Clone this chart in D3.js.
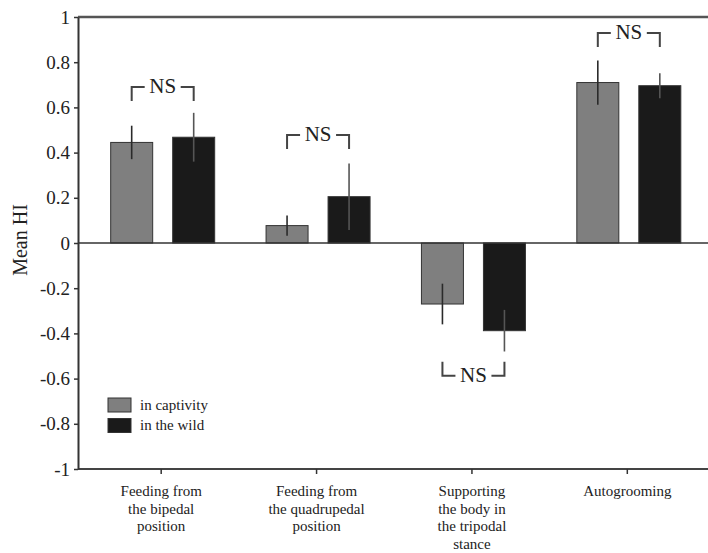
<!DOCTYPE html>
<html>
<head>
<meta charset="utf-8">
<script src="https://cdn.jsdelivr.net/npm/d3@7"></script>
<style>
    body { margin: 0; background: #fff; }
    svg { display: block; }
    text { font-family: "Liberation Serif", "Times New Roman", serif; fill: #222; }
</style>
</head>
<body>
<svg id="chart" width="708" height="553"></svg>
<script>
// DATA
var categories = ["bipedal", "quadrupedal", "tripodal", "autogrooming"];
var categoryLines = [
    ["Feeding from", "the bipedal", "position"],
    ["Feeding from", "the quadrupedal", "position"],
    ["Supporting", "the body in", "the tripodal", "stance"],
    ["Autogrooming"]
];
var seriesNames = ["in captivity", "in the wild"];
var captivityMeans = [0.445, 0.077, -0.27, 0.71];
var captivityErrors = [0.074, 0.045, 0.09, 0.098];
var wildMeans = [0.468, 0.205, -0.388, 0.696];
var wildErrors = [0.108, 0.147, 0.092, 0.055];
var nsLevels = [0.69, 0.478, -0.587, 0.929];
var yTickValues = [-1, -0.8, -0.6, -0.4, -0.2, 0, 0.2, 0.4, 0.6, 0.8, 1];

// UI dimensions
var _width = 708;
var _axisX = 78;
var _topY = 17;
var _bottomY = 469;
var _colors = ["#7f7f7f", "#1a1a1a"];

var svg = d3.select("#chart");

var x = d3.scaleBand()
    .domain(categories)
    .range([83.5, 705]);

var xSub = d3.scaleBand()
    .domain(seriesNames)
    .range([-52, 52])
    .paddingInner(0.3226);

var y = d3.scaleLinear()
    .domain([-1, 1])
    .range([_bottomY, _topY]);

var rows = [];
categories.forEach(function(c, i) {
    rows.push({cat: c, series: seriesNames[0], mean: captivityMeans[i], err: captivityErrors[i], k: 0});
    rows.push({cat: c, series: seriesNames[1], mean: wildMeans[i], err: wildErrors[i], k: 1});
});

var barCenter = function(d) {
    return x(d.cat) + x.bandwidth() / 2 + 1.5 + xSub(d.series) + xSub.bandwidth() / 2;
};

// bars
svg.append("g").selectAll("rect")
    .data(rows)
    .enter()
    .append("rect")
        .attr("x", function(d) { return barCenter(d) - xSub.bandwidth() / 2; })
        .attr("y", function(d) { return y(Math.max(0, d.mean)); })
        .attr("width", xSub.bandwidth())
        .attr("height", function(d) { return Math.abs(y(d.mean) - y(0)); })
        .attr("fill", function(d) { return _colors[d.k]; })
        .attr("stroke", "#333")
        .attr("stroke-width", 1);

// error bars
svg.append("g").selectAll("line")
    .data(rows)
    .enter()
    .append("line")
        .attr("x1", barCenter)
        .attr("x2", barCenter)
        .attr("y1", function(d) { return y(d.mean + d.err); })
        .attr("y2", function(d) { return y(d.mean - d.err); })
        .attr("stroke", function(d) { return d.k === 0 ? "#2a2a2a" : "#555"; })
        .attr("stroke-width", 1.6);

// zero line
svg.append("line")
    .attr("x1", _axisX).attr("x2", _width)
    .attr("y1", y(0)).attr("y2", y(0))
    .attr("stroke", "#333").attr("stroke-width", 1.5);

// frame lines
svg.append("line")
    .attr("x1", _axisX).attr("x2", _width)
    .attr("y1", y(1)).attr("y2", y(1))
    .attr("stroke", "#555").attr("stroke-width", 2.5);
svg.append("line")
    .attr("x1", _axisX).attr("x2", _width)
    .attr("y1", y(-1)).attr("y2", y(-1))
    .attr("stroke", "#444").attr("stroke-width", 2);

// y axis
var yAxis = svg.append("g")
    .attr("transform", "translate(" + _axisX + ",0)")
    .call(d3.axisLeft(y)
        .tickValues(yTickValues)
        .tickSize(4)
        .tickSizeOuter(0)
        .tickPadding(4)
        .tickFormat(function(d) { return String(+d.toFixed(1)); }));
yAxis.select(".domain").attr("stroke", "#333").attr("stroke-width", 2);
yAxis.selectAll(".tick line").attr("stroke", "#333").attr("stroke-width", 1.5);
yAxis.selectAll(".tick text")
    .style("font-family", "'Liberation Serif', serif")
    .style("font-size", "19px")
    .attr("fill", "#1a1a1a");

svg.append("text")
    .attr("transform", "translate(27,240) rotate(-90)")
    .style("text-anchor", "middle")
    .style("font-size", "20px")
    .text("Mean HI");

// x axis ticks
var xAxis = svg.append("g")
    .attr("transform", "translate(0," + _bottomY + ")")
    .call(d3.axisBottom(x).tickSize(5).tickFormat(""));
xAxis.select(".domain").remove();
xAxis.selectAll(".tick line").attr("stroke", "#333").attr("stroke-width", 1.5);

// x labels
var gLabels = svg.append("g").selectAll(".cat-label")
    .data(categories)
    .enter()
    .append("text")
        .classed("cat-label", true)
        .style("text-anchor", "middle")
        .style("font-size", "15px")
        .attr("fill", "#333");
gLabels.each(function(c, i) {
    var t = d3.select(this);
    categoryLines[i].forEach(function(line, j) {
        t.append("tspan")
            .attr("x", x(c) + x.bandwidth() / 2)
            .attr("y", 496 + j * 17.6)
            .text(line);
    });
});

// NS brackets
categories.forEach(function(c, i) {
    var xl = barCenter(rows[i * 2]);
    var xr = barCenter(rows[i * 2 + 1]);
    var yl = y(nsLevels[i]);
    var dir = nsLevels[i] > 0 ? 1 : -1;
    var mid = (xl + xr) / 2;
    var g = svg.append("g")
        .attr("fill", "none")
        .attr("stroke", "#444")
        .attr("stroke-width", 2);
    g.append("path")
        .attr("d", "M" + xl + "," + (yl + dir * 14) + "V" + yl + "H" + (mid - 18));
    g.append("path")
        .attr("d", "M" + (mid + 18) + "," + yl + "H" + xr + "V" + (yl + dir * 14));
    svg.append("text")
        .attr("x", mid)
        .attr("y", yl + 6)
        .style("text-anchor", "middle")
        .style("font-size", "21px")
        .text("NS");
});

// legend
var legend = svg.append("g")
    .attr("transform", "translate(108,398)");
var legendItems = legend.selectAll(".legend-item")
    .data(seriesNames)
    .enter()
    .append("g")
        .classed("legend-item", true)
        .attr("transform", function(d, i) { return "translate(0," + (i * 20.5) + ")"; });
legendItems.append("rect")
    .attr("width", 23)
    .attr("height", 14)
    .attr("fill", function(d, i) { return _colors[i]; })
    .attr("stroke", "#333");
legendItems.append("text")
    .attr("x", 32)
    .attr("y", 11.5)
    .style("font-size", "15px")
    .attr("fill", "#333")
    .text(function(d) { return d; });
</script>
</body>
</html>
